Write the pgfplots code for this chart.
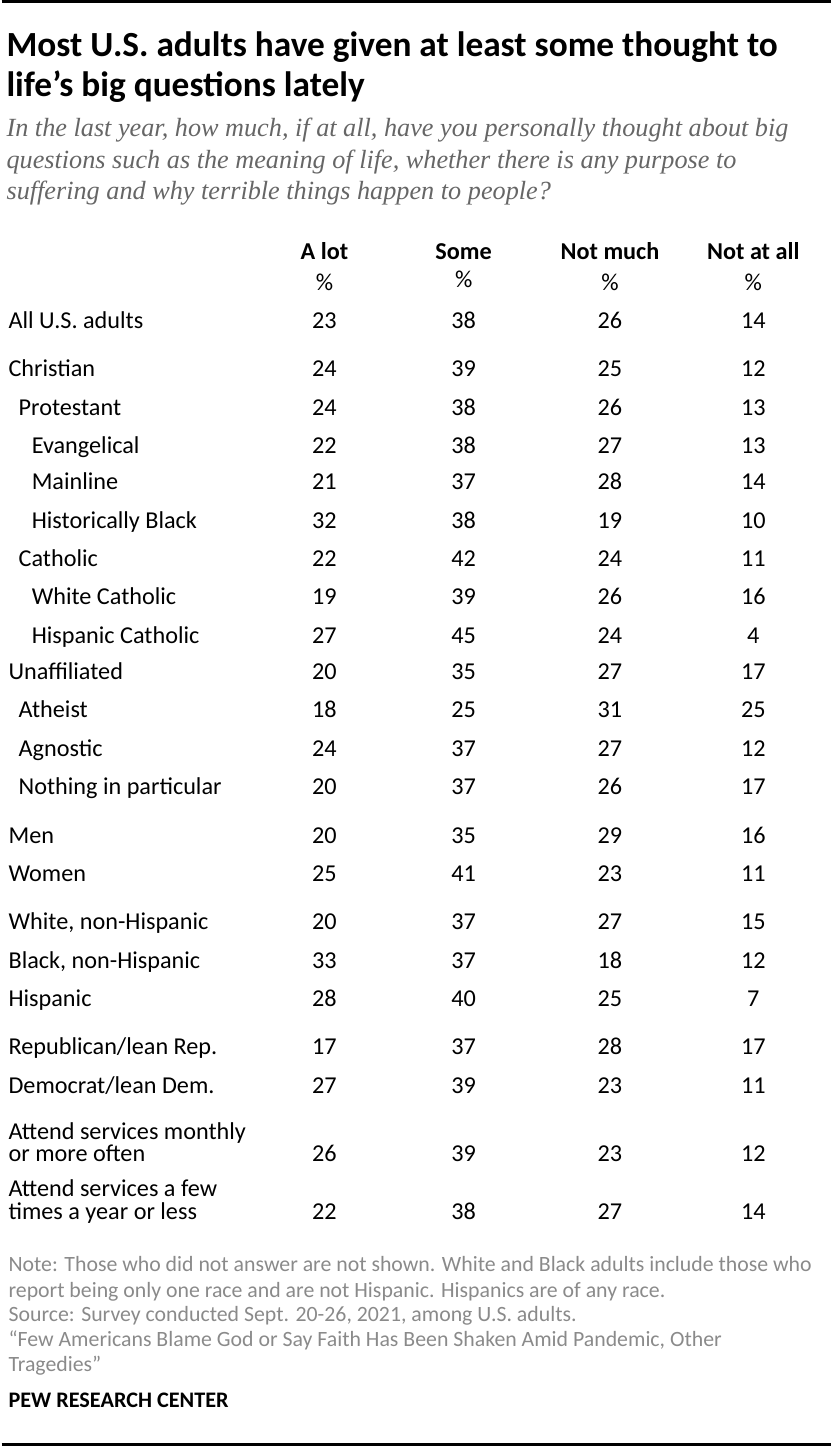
\documentclass[border=0pt]{standalone}
\usepackage{fontspec}
\setmainfont{Carlito}
\newfontfamily\subfont{Liberation Serif}
\usepackage{pgfplots}
\usepackage{pgfplotstable}
\pgfplotsset{compat=1.18}
\definecolor{subgray}{HTML}{666666}
\definecolor{notegray}{HTML}{8A8A8A}
\newcommand\rowfont{\fontsize{12}{14}\selectfont}

\pgfplotstableread[col sep=comma]{
y,a,b,c,d
321,23,38,26,14
369,24,39,25,12
407,24,38,26,13
445,22,38,27,13
481,21,37,28,14
519,32,38,19,10
557,22,42,24,11
595,19,39,26,16
633,27,45,24,4
669,20,35,27,17
707,18,25,31,25
745,24,37,27,12
783,20,37,26,17
831,20,35,29,16
869,25,41,23,11
917,20,37,27,15
955,33,37,18,12
993,28,40,25,7
1041,17,37,28,17
1079,27,39,23,11
1147,26,39,23,12
1204,22,38,27,14
}\datatable

\begin{document}
\begin{tikzpicture}[every node/.style={inner sep=0pt, outer sep=0pt}]
\begin{axis}[
  scale only axis, width=420pt, height=723pt,
  xmin=0, xmax=840, ymin=0, ymax=1446, y dir=reverse,
  axis lines=none, clip=false,
  nodes near coords={\pgfplotspointmeta},
  point meta=explicit symbolic,
  every node near coord/.append style={anchor=center, font=\rowfont, text height=1.5ex, text depth=0.25ex, inner sep=0pt, yshift=-1.5pt},
]
\addplot[draw=none, mark=none] table[x expr=320, y=y, meta=a] {\datatable};
\addplot[draw=none, mark=none] table[x expr=458, y=y, meta=b] {\datatable};
\addplot[draw=none, mark=none] table[x expr=603, y=y, meta=c] {\datatable};
\addplot[draw=none, mark=none] table[x expr=745, y=y, meta=d] {\datatable};

% rules
\draw[line width=1.5pt] (axis cs:0,6) -- (axis cs:822,6);
\draw[line width=1.5pt] (axis cs:0,1436) -- (axis cs:822,1436);

% title
\node[anchor=base west, font=\bfseries\fontsize{17.5}{20}\selectfont] at (axis cs:5,60) {Most U.S. adults have given at least some thought to};
\node[anchor=base west, font=\bfseries\fontsize{17.5}{20}\selectfont] at (axis cs:5,100) {life’s big questions lately};
% subtitle
\begin{scope}[every node/.append style={anchor=base west, text=subgray, font=\subfont\itshape\fontsize{13}{15}\selectfont}]
\node at (axis cs:5,140) {In the last year, how much, if at all, have you personally thought about big};
\node at (axis cs:5,171) {questions such as the meaning of life, whether there is any purpose to};
\node at (axis cs:5,202) {suffering and why terrible things happen to people?};
\end{scope}

% header
\begin{scope}[every node/.append style={anchor=center, font=\rowfont, text height=1.5ex, text depth=0.25ex}]
\node[font=\rowfont\bfseries] at (axis cs:320,256) {A lot};
\node[font=\rowfont\bfseries] at (axis cs:458,256) {Some};
\node[font=\rowfont\bfseries] at (axis cs:603,256) {Not much};
\node[font=\rowfont\bfseries] at (axis cs:745,256) {Not at all};
\node at (axis cs:320,286) {\%};
\node at (axis cs:458,283) {\%};
\node at (axis cs:603,286) {\%};
\node at (axis cs:745,286) {\%};
\end{scope}

% row labels
\begin{scope}[every node/.append style={anchor=west, font=\rowfont, text height=1.5ex, text depth=0.25ex, yshift=-1.5pt}]
\node at (axis cs:7,321) {All U.S. adults};
\node at (axis cs:7,369) {Christian};
\node at (axis cs:17,407) {Protestant};
\node at (axis cs:30,445) {Evangelical};
\node at (axis cs:30,481) {Mainline};
\node at (axis cs:30,519) {Historically Black};
\node at (axis cs:17,557) {Catholic};
\node at (axis cs:30,595) {White Catholic};
\node at (axis cs:30,633) {Hispanic Catholic};
\node at (axis cs:7,669) {Unaffiliated};
\node at (axis cs:17,707) {Atheist};
\node at (axis cs:17,745) {Agnostic};
\node at (axis cs:17,783) {Nothing in particular};
\node at (axis cs:7,831) {Men};
\node at (axis cs:7,869) {Women};
\node at (axis cs:7,917) {White, non-Hispanic};
\node at (axis cs:7,955) {Black, non-Hispanic};
\node at (axis cs:7,993) {Hispanic};
\node at (axis cs:7,1041) {Republican/lean Rep.};
\node at (axis cs:7,1079) {Democrat/lean Dem.};
\node at (axis cs:7,1125) {Attend services monthly};
\node at (axis cs:7,1147) {or more often};
\node at (axis cs:7,1181) {Attend services a few};
\node at (axis cs:7,1204) {times a year or less};
\end{scope}

% notes
\begin{scope}[every node/.append style={anchor=base west, text=notegray, font=\fontsize{10.8}{13}\selectfont}]
\node at (axis cs:7,1265) {Note: Those who did not answer are not shown. White and Black adults include those who};
\node at (axis cs:7,1290) {report being only one race and are not Hispanic. Hispanics are of any race.};
\node at (axis cs:7,1314) {Source: Survey conducted Sept. 20-26, 2021, among U.S. adults.};
\node at (axis cs:7,1339) {“Few Americans Blame God or Say Faith Has Been Shaken Amid Pandemic, Other};
\node at (axis cs:7,1364) {Tragedies”};
\end{scope}
\node[anchor=base west, font=\bfseries\fontsize{11}{13}\selectfont] at (axis cs:7,1399) {PEW RESEARCH CENTER};
\end{axis}
\end{tikzpicture}
\end{document}
